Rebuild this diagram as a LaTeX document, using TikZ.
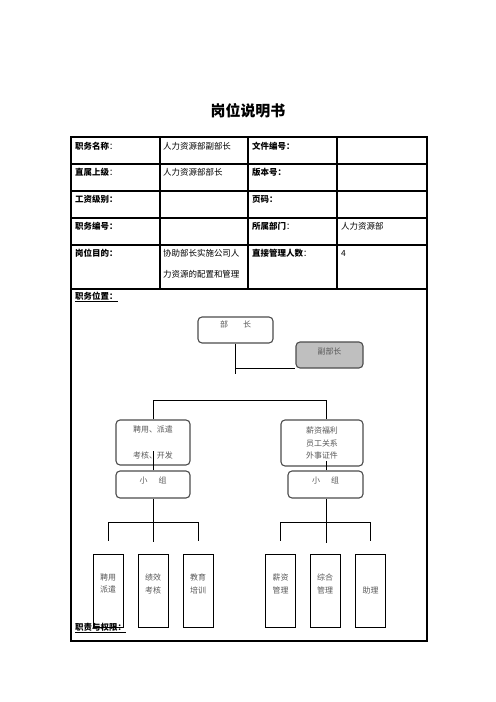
\documentclass[tikz,border=0pt]{standalone}
\usepackage{fontspec}
\setmainfont{Liberation Sans}
\newfontfamily\cjk{Noto Sans CJK SC}
\usepackage{tikz}
\usetikzlibrary{positioning}

\begin{document}
\begin{tikzpicture}[x=1bp,y=-1bp]
	\tikzstyle{every node}+=[inner sep=0pt]
	\tikzstyle{cell}=[anchor=west, font=\cjk\fontsize{8.5}{10}\selectfont]
	\tikzstyle{head}=[anchor=west, font=\cjk\bfseries\fontsize{8.5}{10}\selectfont]
	\tikzstyle{rule}=[black, line width=1.8bp]
	\tikzstyle{orgbox}=[draw=black!70, line width=1.1bp, rounded corners=4bp, text=black!65, align=center, font=\cjk\fontsize{8}{12.5}\selectfont]
	\tikzstyle{leaf}=[draw=black, line width=0.9bp, minimum width=30bp, minimum height=73bp, text=black!65, align=center, font=\cjk\fontsize{8}{13}\selectfont]
	\tikzstyle{leaftext}=[text=black!65, align=center, font=\cjk\fontsize{8}{13}\selectfont]
	\tikzstyle{wire}=[black, line width=0.9bp]
	\useasboundingbox (0,0) rectangle (496,702);
	% title
	\node [font=\cjk\bfseries\fontsize{15}{18}\selectfont] (title) at (248,111) {岗位说明书};
	% table
	\draw [rule] (71,137) rectangle (427,641);
	\foreach \y in {164,191,218,245,289}
		\draw [rule] (71,\y) -- (427,\y);
	\foreach \x in {160,248,337}
		\draw [rule] (\x,137) -- (\x,289);
	\node [head] (name) at (75,146) {职务名称{\mdseries ：}};
	\node [cell] (namev) at (163,146) {人力资源部副部长};
	\node [head] (file) at (252,146) {文件编号：};
	\node [head] (boss) at (75,172) {直属上级{\mdseries ：}};
	\node [cell] (bossv) at (163,172) {人力资源部部长};
	\node [head] (version) at (252,172) {版本号：};
	\node [head] (grade) at (75,199) {工资级别：};
	\node [head] (page) at (252,199) {页码：};
	\node [head] (code) at (75,226) {职务编号：};
	\node [head] (dept) at (252,226) {所属部门{\mdseries ：}};
	\node [cell] (deptv) at (341,226) {人力资源部};
	\node [head] (aim) at (75,253) {岗位目的：};
	\node [cell] (aimv) at (163,253) {协助部长实施公司人};
	\node [cell] (aimw) at (163,274) {力资源的配置和管理};
	\node [head] (staff) at (252,253) {直接管理人数{\mdseries ：}};
	\node [cell] (staffv) at (341,253) {4};
	\node [head] (place) at (75,297) {\underline{职务位置：}};
	\node [head] (duty) at (75,628) {\underline{职责与权限：}};
	% chart
	\node [orgbox, minimum width=75bp, minimum height=26bp, text height=6bp, text depth=11bp] (chief) at (235.5,330) {部\hspace{15bp}长};
	\node [orgbox, fill=black!25, minimum width=67bp, minimum height=26bp, text height=6bp, text depth=8bp] (deputy) at (329.5,355) {副部长};
	\node [orgbox, minimum width=74bp, minimum height=45bp] (hire) at (153,442.5) {聘用、派遣\\[13bp]考核、开发};
	\node [orgbox, minimum width=82bp, minimum height=46bp] (pay) at (322,443) {薪资福利\\员工关系\\外事证件};
	\node [orgbox, minimum width=74bp, minimum height=27bp, text height=6bp, text depth=8bp] (hiregrp) at (153,484.5) {小\hspace{11bp}组};
	\node [orgbox, minimum width=75bp, minimum height=27bp, text height=6bp, text depth=8bp] (paygrp) at (325.5,484.5) {小\hspace{11bp}组};
	\node [leaf] (recruit) at (108,590.5) {};
	\node [leaftext] at ([yshift=7bp]recruit.center) {聘用\\派遣};
	\node [leaf] (perf) at (153,590.5) {};
	\node [leaftext] at ([yshift=7bp]perf.center) {绩效\\考核};
	\node [leaf] (train) at (198,590.5) {};
	\node [leaftext] at ([yshift=7bp]train.center) {教育\\培训};
	\node [leaf] (salary) at (280.5,590.5) {};
	\node [leaftext] at ([yshift=7bp]salary.center) {薪资\\管理};
	\node [leaf] (admin) at (325,590.5) {};
	\node [leaftext] at ([yshift=7bp]admin.center) {综合\\管理};
	\node [leaf] (assist) at (370.5,590.5) {助理};
	% connectors
	\coordinate (chiefend) at (235.5,374);
	\coordinate (paytop) at (326,400.5);
	\draw [wire] (chief.south) -- (chiefend);
	\draw [wire] (chief.south |- deputy.south west) -- (deputy.south west);
	\draw [wire] (hire.north) |- (paytop) -- (paytop |- pay.north);
	\draw [wire] (hiregrp.north) -- ++(0,-19);
	\draw [wire] (paytop |- paygrp.north) -- ++(0,-9);
	\draw [wire] (hiregrp.south) -- ++(0,43);
	\draw [wire] ([yshift=13bp]recruit.north) |- ([yshift=31bp]train.north) -- ([yshift=13bp]train.north);
	\draw [wire] (paytop |- paygrp.south) -- ++(0,44);
	\draw [wire] ([yshift=13bp]salary.north) |- ([yshift=31bp]assist.north) -- ([yshift=13bp]assist.north);
\end{tikzpicture}
\end{document}
